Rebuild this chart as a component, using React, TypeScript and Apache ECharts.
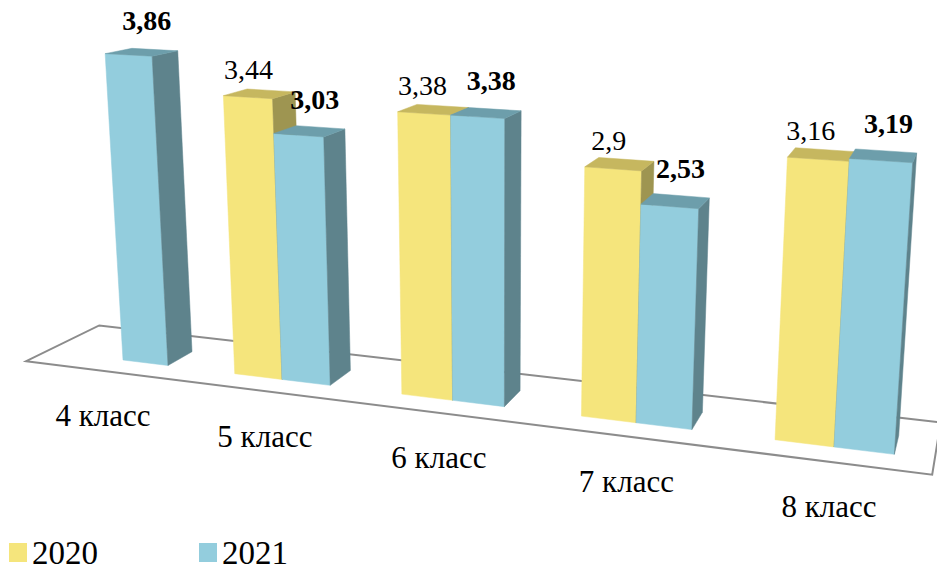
import React, { useEffect, useRef } from 'react';
import * as echarts from 'echarts';

const categories = ['4 класс', '5 класс', '6 класс', '7 класс', '8 класс'];
const values2020: (number | null)[] = [null, 3.44, 3.38, 2.9, 3.16];
const values2021: (number | null)[] = [3.86, 3.03, 3.38, 2.53, 3.19];
const seriesNames = ['2020', '2021'];

const FONT = 'Liberation Serif';

// perspective camera: world (t = category position, d = depth, h = value) -> screen
function proj(t: number, d: number, h: number): number[] {
  const w = 1 - 0.034 * t + 0.0284 * d - 0.0118 * h;
  return [
    (123 + 149.4 * t + 29.25 * d - 5.86 * h) / w,
    (360 + 6.55 * t - 3.69 * d - 80 * h) / w,
  ];
}

function toWorld(api: any, i: number, v: number): number[] {
  const c0 = api.coord([0, 0]);
  const sz = api.size([1, 1]);
  const p = api.coord([i, v]);
  return [(p[0] - c0[0]) / sz[0], (c0[1] - p[1]) / sz[1]];
}

const HALF = 0.29;

function makeBarRender(side: number, colors: { front: string; top: string; side: string }, bold: boolean, labelOff: number[]) {
  return (params: any, api: any) => {
    const v = api.value(1);
    if (v == null || isNaN(v)) return null;
    const i = api.value(0);
    const [tc, h] = toWorld(api, i, v);
    const t0 = side === 0 ? tc - HALF : tc;
    const t1 = side === 0 ? tc : tc + HALF;
    const front = [proj(t0, 0, 0), proj(t1, 0, 0), proj(t1, 0, h), proj(t0, 0, h)];
    const sideF = [proj(t1, 0, 0), proj(t1, 1, 0), proj(t1, 1, h), proj(t1, 0, h)];
    const top = [proj(t0, 0, h), proj(t1, 0, h), proj(t1, 1, h), proj(t0, 1, h)];
    const lc = proj((t0 + t1) / 2, 0.5, h);
    const txt = String(v).replace('.', ',');
    return {
      type: 'group',
      children: [
        { type: 'polygon', shape: { points: front }, style: { fill: colors.front, stroke: colors.front, lineWidth: 0.5 } },
        { type: 'polygon', shape: { points: sideF }, style: { fill: colors.side, stroke: colors.side, lineWidth: 0.5 } },
        { type: 'polygon', shape: { points: top }, style: { fill: colors.top, stroke: colors.top, lineWidth: 0.5 } },
        {
          type: 'text',
          x: lc[0] + labelOff[0],
          y: lc[1] + labelOff[1],
          style: {
            text: txt,
            fill: '#000',
            fontFamily: FONT,
            fontSize: 28,
            fontWeight: bold ? 'bold' : 'normal',
            align: 'center',
            verticalAlign: 'middle',
          },
        },
      ],
    };
  };
}

const yellow = { front: '#F5E57C', top: '#C6B75F', side: '#9E9551' };
const blue = { front: '#93CDDD', top: '#6D9EAB', side: '#5E838C' };

const option: any = {
  animation: false,
  backgroundColor: '#ffffff',
  tooltip: { show: false },
  textStyle: { fontFamily: FONT },
  grid: { left: 0, top: 0, width: 500, height: 400 },
  xAxis: { type: 'category', data: categories, show: false },
  yAxis: { type: 'value', min: 0, max: 4, show: false },
  legend: {
    data: seriesNames,
    left: 9,
    top: 536,
    padding: 0,
    icon: 'rect',
    itemWidth: 18,
    itemHeight: 19,
    itemGap: 101,
    textStyle: { fontFamily: FONT, fontSize: 33, color: '#000' },
  },
  series: [
    {
      type: 'custom',
      name: 'floor',
      z: 1,
      silent: true,
      data: [[0, 0]],
      encode: { x: 0, y: 1 },
      renderItem: (params: any, api: any) => {
        const tMin = -0.5;
        const tMax = categories.length - 0.52;
        const pts = [proj(tMin, -0.76, 0), proj(tMax, -0.76, 0), proj(tMax, 1.99, 0), proj(tMin, 1.99, 0)];
        return {
          type: 'polygon',
          shape: { points: pts },
          style: { fill: 'rgba(0,0,0,0)', stroke: '#8C8C8C', lineWidth: 2 },
        };
      },
    },
    {
      type: 'custom',
      name: seriesNames[0],
      z: 2,
      itemStyle: { color: yellow.front },
      data: values2020.map((v, i) => [i, v == null ? '-' : v]),
      encode: { x: 0, y: 1 },
      renderItem: makeBarRender(0, yellow, false, [-11, -24]),
    },
    {
      type: 'custom',
      name: seriesNames[1],
      z: 3,
      itemStyle: { color: blue.front },
      data: values2021.map((v, i) => [i, v == null ? '-' : v]),
      encode: { x: 0, y: 1 },
      renderItem: makeBarRender(1, blue, true, [5, -32]),
    },
    {
      type: 'custom',
      name: 'labels',
      z: 4,
      silent: true,
      data: categories.map((c, i) => [i, 0]),
      encode: { x: 0, y: 1 },
      renderItem: (params: any, api: any) => {
        const i = api.value(0);
        const [t] = toWorld(api, i, 0);
        const p = proj(t, -0.76, 0);
        return {
          type: 'text',
          x: p[0],
          y: p[1] + 45,
          style: {
            text: categories[params.dataIndex],
            fill: '#000',
            fontFamily: FONT,
            fontSize: 31,
            align: 'center',
            verticalAlign: 'middle',
          },
        };
      },
    },
  ],
};

export default function App() {
  const ref = useRef<HTMLDivElement>(null);
  useEffect(() => {
    document.body.style.margin = '0';
    const chart = echarts.init(ref.current!, null, { renderer: 'svg' });
    chart.setOption(option);
    return () => chart.dispose();
  }, []);
  return <div ref={ref} style={{ width: 937, height: 569, background: '#fff' }} />;
}
